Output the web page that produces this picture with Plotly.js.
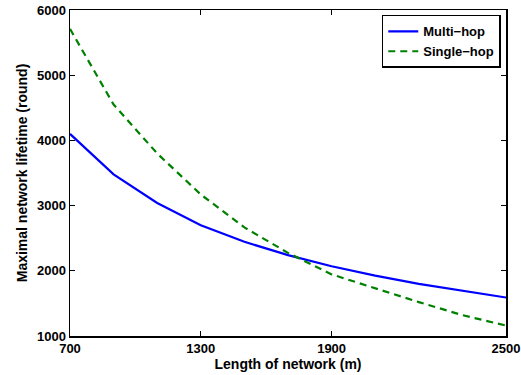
<!DOCTYPE html>
<html>
<head>
<meta charset="utf-8">
<script src="https://cdn.plot.ly/plotly-3.0.1.min.js"></script>
<style>html,body{margin:0;padding:0;background:#fff;}#chart{width:521px;height:375px;}</style>
</head>
<body>
<div id="chart"></div>
<script>
const networkLength = [700, 900, 1100, 1300, 1500, 1700, 1900, 2100, 2300, 2500, 2700];
const multiHop  = [4100, 3480, 3040, 2700, 2445, 2240, 2070, 1925, 1800, 1695, 1590];
const singleHop = [5710, 4550, 3800, 3170, 2665, 2275, 1945, 1730, 1520, 1320, 1160];
const xTickVals = [700, 1300, 1900, 2700];
const xTickText = ['700', '1300', '1900', '2500'];
const yTickVals = [1000, 2000, 3000, 4000, 5000, 6000];

const fam = 'Liberation Sans, Arial, sans-serif';
const tickFont = {family: fam, size: 13, color: '#000', weight: 'bold'};
const titleFont = {family: fam, size: 14, color: '#000', weight: 'bold'};

const traces = [
  {x: networkLength, y: multiHop, type: 'scatter', mode: 'lines', name: 'Multi\u2212hop',
   line: {color: '#0000ff', width: 2.2}},
  {x: networkLength, y: singleHop, type: 'scatter', mode: 'lines', name: 'Single\u2212hop',
   line: {color: '#008000', width: 2.2, dash: '7px,5px'}}
];

const axisCommon = {
  showgrid: false, zeroline: false, showline: true, linecolor: '#000', linewidth: 1.5,
  mirror: 'ticks', ticks: 'inside', ticklen: 5, tickwidth: 1, tickcolor: '#000',
  tickfont: tickFont
};

const layout = {
  width: 521, height: 375,
  margin: {l: 70, r: 15, t: 10, b: 39},
  paper_bgcolor: '#fff', plot_bgcolor: '#fff',
  font: tickFont,
  showlegend: true,
  legend: {x: 0.988, y: 0.985, xanchor: 'right', yanchor: 'top',
           bgcolor: '#fff', bordercolor: '#000', borderwidth: 1.5,
           font: {family: fam, size: 13, color: '#000', weight: 'bold'},
           tracegroupgap: 0, itemwidth: 30},
  xaxis: Object.assign({}, axisCommon, {
    range: [700, 2700], tickmode: 'array', tickvals: xTickVals, ticktext: xTickText,
    title: {text: 'Length of network (m)', font: titleFont, standoff: 1}
  }),
  yaxis: Object.assign({}, axisCommon, {
    range: [1000, 6000], tickmode: 'array', tickvals: yTickVals,
    title: {text: 'Maximal network lifetime (round)', font: titleFont, standoff: 6}
  })
};

Plotly.newPlot('chart', traces, layout, {displayModeBar: false, staticPlot: true});
</script>
</body>
</html>
